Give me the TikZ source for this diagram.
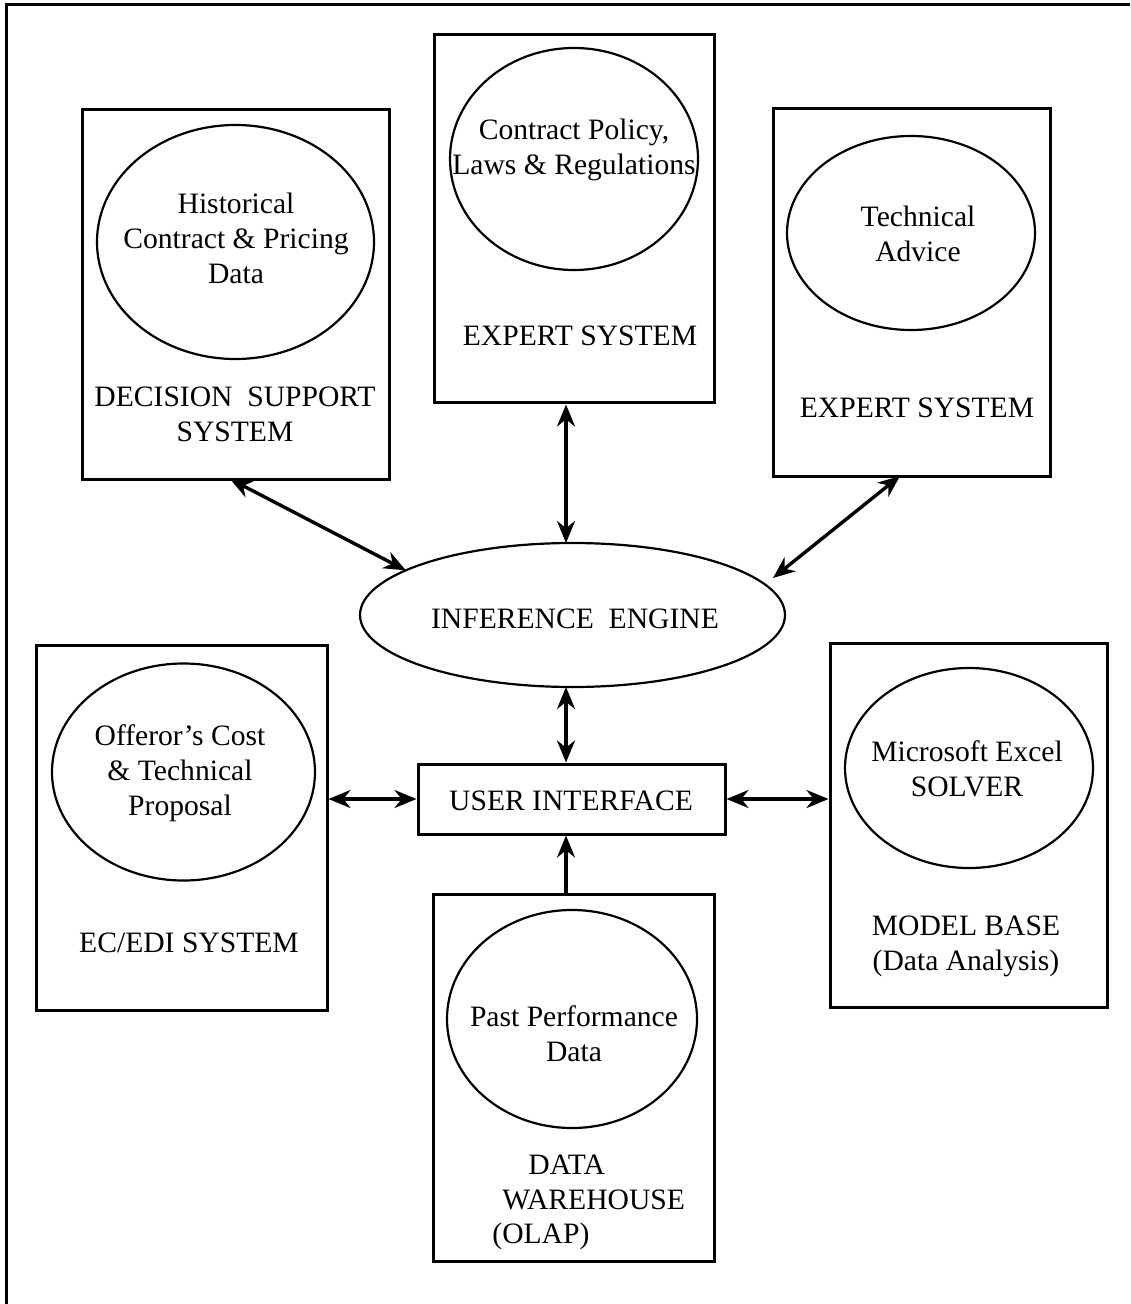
\documentclass[tikz,border=0pt]{standalone}
\usepackage{fontspec}
\setmainfont{Liberation Serif}
\usetikzlibrary{shapes.geometric,arrows.meta,fit,calc}

\tikzset{
  sysbox/.style={draw, line width=1.5pt, rectangle, inner sep=0pt},
  dataell/.style={draw, line width=1.1pt, ellipse, inner sep=0pt, outer sep=0pt},
  txt/.style={inner sep=0pt, align=center, font=\fontsize{14.8pt}{17.5pt}\selectfont},
  tip/.tip={Stealth[length=11pt,width=9pt]},
  biarrow/.style={line width=1.7pt, tip-tip},
  uniarrow/.style={line width=1.7pt, -tip},
  frame/.style={line width=1.5pt}
}

\begin{document}
\begin{tikzpicture}[x=0.5pt, y=-0.5pt]
\useasboundingbox (0,0) rectangle (1130,1304);

% outer frame (left and top edges)
\coordinate (frameBL) at (6,1304);
\coordinate (frameTL) at (6,5);
\coordinate (frameTR) at (1130,5);
\draw[frame] (frameBL) -- (frameTL) -- (frameTR);

% ---------- Decision support system ----------
\node[sysbox, fit={(82,110) (389,479)}] (dss) {};
\node[dataell, minimum width=138.5pt, minimum height=117pt] (dssE) at (235.5,242) {};
\node[txt] (dssT) at (236,238) {Historical\\Contract \& Pricing\\Data};
\node[txt] (dssL) at (235,414) {DECISION\ \ SUPPORT\\SYSTEM};

% ---------- Expert system (policy) ----------
\node[sysbox, fit={(434,35) (714,403)}] (exp1) {};
\node[dataell, minimum width=124pt, minimum height=111pt] (exp1E) at (574,159) {};
\node[txt] (exp1T) at (574,150) {Contract Policy,\\Laws \& Regulations};
\node[txt] (exp1L) at (580,336) {EXPERT SYSTEM};

% ---------- Expert system (technical) ----------
\node[sysbox, fit={(773,109) (1050,476)}] (exp2) {};
\node[dataell, minimum width=124pt, minimum height=97pt] (exp2E) at (911,233) {};
\node[txt] (exp2T) at (918,234) {Technical\\Advice};
\node[txt] (exp2L) at (917,408) {EXPERT SYSTEM};

% ---------- Inference engine ----------
\node[dataell, minimum width=212.5pt, minimum height=72pt] (ie) at (572.5,615) {};
\node[txt] (ieT) at (575,619) {INFERENCE\ \ ENGINE};

% ---------- EC/EDI system ----------
\node[sysbox, fit={(36,645) (327,1010)}] (ec) {};
\node[dataell, minimum width=131.5pt, minimum height=108.5pt] (ecE) at (183.5,772) {};
\node[txt] (ecT) at (180,773) {Offeror's Cost\\\& Technical\\Proposal};
\node[txt] (ecL) at (189,943) {EC/EDI SYSTEM};

% ---------- User interface ----------
\node[sysbox, fit={(418,764) (725,834)}] (ui) {};
\node[txt] (uiT) at (571,801) {USER INTERFACE};

% ---------- Model base ----------
\node[sysbox, fit={(830,643) (1107,1007)}] (mb) {};
\node[dataell, minimum width=124pt, minimum height=100pt] (mbE) at (969,768) {};
\node[txt] (mbT) at (967,768.5) {Microsoft Excel\\SOLVER};
\node[txt] (mbL) at (966,946) {MODEL BASE\\(Data Analysis)};

% ---------- Data warehouse ----------
\node[sysbox, fit={(433,894) (714,1261)}] (dw) {};
\node[dataell, minimum width=125pt, minimum height=109pt] (dwE) at (572,1019) {};
\node[txt] (dwT) at (574,1034) {Past Performance\\Data};
\node[txt, anchor=west] (dwL1) at (528,1165) {DATA};
\node[txt, anchor=west] (dwL2) at (502,1200) {WAREHOUSE};
\node[txt, anchor=west] (dwL3) at (492,1236) {(OLAP)};

% ---------- connectors ----------
\coordinate (vx) at (566,0);
\coordinate (dssA) at (230,479);
\coordinate (exp2A) at (900,476);
\coordinate (ieR) at (773,578);

\draw[biarrow] (dssA) -- (ie.165);
\draw[biarrow] (exp1.south -| vx) -- (ie.north -| vx);
\draw[biarrow] (exp2A) -- (ieR);
\draw[biarrow] (ie.south -| vx) -- (ui.north -| vx);
\draw[biarrow] (ec.east |- ui.west) -- (ui.west);
\draw[biarrow] (ui.east) -- (mb.west |- ui.east);
\draw[uniarrow] (dw.north -| vx) -- (ui.south -| vx);
\end{tikzpicture}
\end{document}
